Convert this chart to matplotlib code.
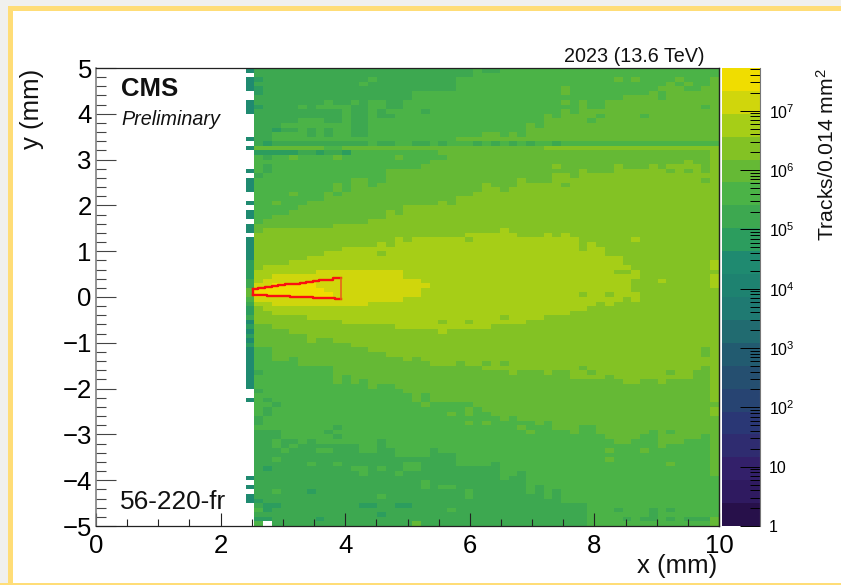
import numpy as np
import matplotlib
matplotlib.use("Agg")
import matplotlib.pyplot as plt
from matplotlib.colors import ListedColormap, LogNorm
from matplotlib.patches import Rectangle
from matplotlib.ticker import FixedLocator, LogLocator, NullFormatter, FuncFormatter

plt.rcParams['font.family'] = ['Liberation Sans', 'DejaVu Sans']
plt.rcParams['mathtext.fontset'] = 'custom'
plt.rcParams['mathtext.rm'] = 'Liberation Sans'
plt.rcParams['mathtext.default'] = 'regular'

# ---- colour bands of the palette, bottom to top
band_colors = ['#27104a', '#2f1a60', '#33206a', '#2f2c70', '#2a3775', '#274472', '#254f70',
               '#225b70', '#216b70', '#1f7a72', '#1e8270', '#1f8a70', '#2c9d5e', '#3da850',
               '#4bb347', '#65b935', '#83c224', '#a6ce17', '#d0d60c', '#f0dd00']
decades_per_band = 0.386

# ---- band outlines, per column (mm, upper and lower edges)
U19 = [.2, .2, .3, .3, .3, .3, .3, .2, .1]
L19 = [0, 0, 0, 0, 0, 0, 0, 0, 0]
U18 = [.3, .4, .5, .5, .5, .5, .5, .6, .6, .6,
       .6, .6, .6, .6, .6, .6, .6, .4, .4, .3]
L18 = [-.1, -.1, -.2, -.2, -.2, -.2, -.2, -.2, -.2, -.2,
       -.2, -.2, -.2, -.1, -.1, -.1, -.1, 0, 0, .2]
U17 = [.6, .7, .7, .7, .8, .8, .9, .9, 1, 1,
       1.1, 1.1, 1.1, 1.1, 1.2, 1.1, 1.3, 1.2, 1.3, 1.3,
       1.3, 1.3, 1.3, 1.3, 1.4, 1.4, 1.4, 1.4, 1.5, 1.4,
       1.3, 1.3, 1.3, 1.4, 1.3, 1.4, 1.3, 1.0, 1.2, 1.1,
       .9, .9, .7, .6]
L17 = [-.2, -.3, -.4, -.4, -.4, -.4, -.5, -.5, -.5, -.5,
       -.6, -.6, -.6, -.6, -.6, -.6, -.7, -.7, -.7, -.7,
       -.7, -.7, -.7, -.7, -.7, -.7, -.7, -.6, -.6, -.6,
       -.6, -.5, -.5, -.4, -.4, -.4, -.3, -.3, -.2, -.1,
       -.2, -.1, 0, -.1]
U16 = [1.4, 1.5, 1.5, 1.5, 1.5, 1.5, 1.5, 1.5, 1.5, 1.6,
       1.6, 1.6, 1.6, 1.7, 1.7, 1.9, 1.8, 2.0, 2.0, 2.0,
       2.0, 2.1, 2.0, 2.2, 2.2, 2.3, 2.5, 2.4, 2.3, 2.4,
       2.6, 2.5, 2.5, 2.5, 2.7, 2.7, 2.6, 2.8, 2.7, 2.7,
       2.7, 2.9, 2.8, 2.8, 2.8, 2.9, 2.8, 2.9, 3.0, 3.0,
       2.9, 2.7, 3.3]
L16 = [-.6, -.6, -.7, -.7, -.8, -.8, -1, -.9, -.9, -1,
       -1, -1.1, -1.1, -1.2, -1.2, -1.3, -1.3, -1.4, -1.3, -1.4,
       -1.5, -1.5, -1.5, -1.4, -1.5, -1.5, -1.6, -1.6, -1.6, -1.7,
       -1.6, -1.6, -1.6, -1.7, -1.6, -1.6, -1.8, -1.8, -1.8, -1.8,
       -1.7, -1.8, -1.9, -1.9, -1.8, -1.8, -1.9, -1.8, -1.8, -1.8,
       -1.6, -1.5, -2.3]
U15 = [1.6, 1.7, 1.8, 1.8, 1.9, 2.0, 2.1, 2.1, 2.3, 2.5,
       2.3, 2.6, 2.6, 2.4, 2.5, 2.8, 2.8, 2.8, 2.8, 2.9,
       3.0, 3.2, 3.2, 3.5, 3.5, 3.5, 3.6, 3.6, 3.5, 3.6,
       3.5, 3.8, 3.7, 4.0, 3.9, 4.1, 4.0, 4.3, 4.1, 4.1,
       4.3, 4.3, 4.4, 4.4, 4.4, 4.5, 4.3, 4.6, 4.6, 4.5,
       4.5, 4.6, 4.8]
L15 = [-1.1, -1.1, -1.4, -1.4, -1.3, -1.5, -1.5, -1.5, -1.5, -1.9,
       -1.7, -1.9, -1.8, -2.0, -1.9, -1.9, -2.0, -2.1, -2.3, -2.1,
       -2.2, -2.3, -2.3, -2.3, -2.3, -2.4, -2.5, -2.6, -2.7, -2.6,
       -2.7, -2.7, -2.8, -2.7, -2.9, -2.9, -3.0, -2.8, -2.8, -3.0,
       -3.1, -3.2, -3.2, -3.1, -3.0, -2.9, -3.2, -3.2, -3.2, -3.1,
       -3.1, -3.0, -3.9]
U14 = [3.3, 3.3, 3.7, 3.8, 3.8, 3.9, 3.9, 3.9, 3.8, 3.8,
       3.9, 3.5, 3.5, 4.3, 4.3, 4.3, 4.3, 4.5, 4.5, 4.5,
       4.5, 4.5, 4.5, 4.8, 4.8, 5, 5, 5, 5, 5,
       5, 5, 5, 5, 5, 5, 5, 5, 5, 5,
       5, 5, 5, 5, 5, 5, 5, 5, 5, 5,
       5, 5, 5]
L14 = [-2.9, -2.9, -2.9, -3.1, -3.1, -3.1, -3.1, -3.1, -3.1, -3.2,
       -3.2, -3.2, -3.4, -3.4, -3.1, -3.3, -3.5, -3.5, -3.5, -3.5,
       -3.3, -3.4, -3.4, -3.7, -3.7, -3.7, -3.7, -3.6, -4.0, -3.9,
       -3.8, -4.3, -4.1, -4.4, -4.2, -4.5, -4.5, -4.5, -5, -5,
       -5, -5, -5, -5, -5, -5, -5, -5, -5, -5,
       -5, -5, -5]
base_band = 13

# ---- horizontal structure near y = 3.3 mm, by column
row_3p3 = [13, 12, 13, 13, 13, 13, 13, 13, 13, 13,
           13, 13, 13, 14, 13, 13, 14, 14, 13, 13,
           14, 13, 14, 14, 14, 13, 14, 13, 14, 13,
           14, 13, 14, 14, 13, 14, 14, 14, 14, 14,
           14, 14, 14, 14, 14, 14, 14, 14, 14, 14,
           14, 14, 14]
row_3p2 = [15, 15, 15, 15, 15, 15, 15, 15, 14, 14,
           15, 15, 15, 15, 15, 15, 15, 15, 15, 15,
           15, 15, 15, 15, 15, 15, 15, 15, 15, 15,
           15, 15, 15, 16, 16, 16, 16, 16, 16, 16,
           16, 16, 16, 16, 16, 16, 16, 16, 16, 16,
           16, 16, 16]
row_3p1 = [12, 12, 12, 12, 12, 13, 13, 12, 13, 13, 12,
           14, 14, 14, 14, 14, 14, 14, 14, 14, 14]

# ---- single deviating cells: (column, lower edge in mm, band)
cells = [(0, 4.7, 12), (1, 4.7, 13), (0, 4.5, 12), (0, 4.4, 12), (0, 4.1, 12), (5, 4.1, 14),
         (7, 4.1, 14), (8, 4.1, 14), (9, 4.1, 14), (10, 4.1, 14), (8, 4.2, 14), (11, 4.2, 14),
         (10, 3.9, 14), (10, 4.0, 14), (14, 3.9, 13), (14, 4.0, 13), (15, 3.9, 13), (15, 4.1, 13),
         (16, 4.1, 13), (15, 4.2, 13), (16, 4.2, 13), (19, 4.0, 13), (15, 4.5, 13), (17, 4.3, 13),
         (17, 4.4, 13), (17, 4.5, 13), (13, 4.7, 14), (12, 4.6, 14), (8, 3.5, 13), (8, 3.6, 13),
         (2, 3.6, 12), (3, 3.6, 13), (4, 3.6, 13), (6, 3.5, 13), (6, 3.6, 13), (1, 3.0, 13),
         (1, 2.7, 13), (1, 2.8, 13), (0, 2.6, 13), (4, 3.0, 15), (9, 3.0, 15), (16, 3.0, 15),
         (21, 3.0, 14), (9, 2.2, 14), (4, 2.2, 15), (2, 2.0, 15), (26, 4.9, 13), (27, 4.9, 13),
         (41, 4.7, 15), (43, 4.7, 15), (46, 4.5, 15), (48, 4.7, 15), (47, 4.6, 15), (49, 4.6, 15),
         (35, 4.4, 15), (35, 4.5, 15), (35, 4.2, 15), (31, 3.7, 15), (33, 3.9, 15), (46, 4.3, 14),
         (51, 4.1, 14), (44, 3.9, 14), (39, 3.9, 14), (38, 3.8, 14), (34, 2.8, 16), (47, 2.7, 15),
         (49, 2.7, 15), (48, 2.9, 15), (35, 2.4, 15), (51, 2.5, 15), (43, 1.2, 17), (41, .5, 16),
         (42, .5, 16), (46, .3, 17), (52, .7, 17), (52, .6, 17), (52, .4, 17), (52, .3, 17),
         (52, .2, 17), (37, 0, 16), (40, 0, 16), (43, .3, 16), (43, .2, 16), (43, .1, 16),
         (28, -.5, 16), (28, -.6, 17), (26, -1.5, 15), (28, -1.5, 15), (37, -1.6, 15),
         (38, -1.7, 15), (47, -1.7, 15), (51, -1.2, 15), (51, -1.3, 15), (52, -2.5, 16),
         (52, -2.6, 16), (26, -2.8, 15), (30, -2.9, 15), (31, -3.0, 15), (47, -3.0, 14),
         (51, -3.1, 14), (51, -3.2, 14), (40, -3.4, 15), (40, -3.6, 15), (44, -3.4, 15),
         (46, -3.3, 15), (47, -3.7, 15), (41, -4.7, 13), (45, -4.7, 13), (45, -4.8, 13),
         (45, -4.9, 13), (47, -4.7, 13), (42, -4.9, 13), (44, -4.9, 13), (47, -4.9, 13),
         (49, -4.9, 13), (50, -4.9, 13), (51, -4.9, 13), (2, -3.2, 14), (2, -3.3, 14),
         (3, -3.4, 14), (4, -3.3, 14), (5, -3.2, 14), (7, -3.2, 14), (8, -3.2, 14), (7, -3.4, 14),
         (8, -3.4, 14), (2, -3.6, 14), (6, -3.7, 14), (9, -3.7, 14), (2, -4.3, 14), (6, -4.3, 12),
         (1, -3.8, 12), (11, -3.8, 14), (12, -3.8, 14), (12, -3.9, 14), (14, -3.8, 14),
         (16, -3.9, 14), (17, -3.7, 14), (18, -3.7, 14), (17, -3.8, 14), (18, -3.8, 14),
         (19, -4.2, 14), (19, -4.1, 14), (21, -4.2, 14), (22, -4.2, 14), (14, -4.4, 14),
         (24, -4.4, 14), (24, -4.3, 14), (0, -4.5, 12), (1, -4.6, 12), (1, -4.7, 12), (2, -4.6, 12),
         (0, -4.7, 14), (12, -4.6, 12), (13, -4.6, 12), (16, -4.6, 12), (17, -4.6, 12),
         (22, -4.7, 14), (14, -4.8, 12), (0, -4.9, 12), (1, -4.9, 12), (7, -4.9, 12),
         (8, -3.0, 13), (9, -2.9, 13), (9, -3.1, 13), (24, -2.6, 15), (24, -2.5, 15), (22, -2.6, 15),
         (24, -2.8, 15), (19, -2.4, 15), (20, -2.3, 15), (1, -2.6, 13), (1, -2.5, 13), (0, -2.7, 13),
         (0, -2.8, 13), (2, -2.4, 13), (1, -2.3, 13), (0, -2.1, 13), (0, -1.7, 13), (21, -.6, 16),
         (21, -.8, 17), (24, -.6, 16), (14, .9, 16), (24, 1.2, 16), (0, -5.0, 14), (18, -5.0, 15),
         (38, -5.0, 14), (39, -5.0, 14), (40, -5.0, 14), (52, -5.0, 15), (52, -4.9, 15)]
empty_cells = [(1, -5.0)]

# ---- partly filled column at the left edge: (lower edge in mm, band)
strip_cells = [(4.9, 11), (4.7, 11), (4.6, 11), (4.5, 11), (4.2, 11), (4.1, 11), (4.0, 11), (3.4, 11),
               (3.2, 11), (2.7, 11), (2.5, 11), (2.4, 11), (2.3, 11), (2.0, 11), (1.8, 11), (1.7, 11),
               (1.5, 11), (1.4, 11), (1.2, 11), (1.1, 11), (1.0, 11), (.9, 11), (.8, 11), (.7, 12),
               (.6, 12), (.5, 12), (.4, 12), (.3, 13), (.2, 13), (.1, 15), (0, 15), (-.1, 14), (-.2, 13),
               (-.3, 12), (-.4, 12), (-.5, 13), (-.6, 11), (-.7, 12), (-.8, 11), (-.9, 12), (-1.0, 11),
               (-1.1, 12), (-1.2, 11), (-1.3, 11), (-1.4, 11), (-1.5, 11), (-1.6, 11), (-1.7, 11),
               (-1.8, 11), (-1.9, 11), (-2.0, 11), (-2.3, 11), (-4.0, 11), (-4.2, 11), (-4.4, 11),
               (-4.5, 11)]

# ---- acceptance outline (stepped top and bottom edges, straight closing side)
outline_top_x = [2.525, 2.606, 2.713, 2.82, 2.927, 3.034, 3.157, 3.274, 3.371, 3.478, 3.585, 3.692, 3.81, 3.933]
outline_top_y = [0.168, 0.204, 0.225, 0.24, 0.262, 0.277, 0.29, 0.312, 0.327, 0.342, 0.364, 0.378, 0.408, 0.408]
outline_low_x = [2.525, 2.75, 3.114, 3.478, 3.836, 3.933]
outline_low_y = [0.044, 0.022, 0.0, -0.015, -0.037, -0.037]
outline_side_x = [3.933, 3.933]
outline_side_y = [0.408, -0.037]
outline_left_x = [2.525, 2.525]
outline_left_y = [0.168, 0.044]

xticks_major = [0, 2, 4, 6, 8, 10]
yticks_major = [-5, -4, -3, -2, -1, 0, 1, 2, 3, 4, 5]
cbar_ticks = [1, 10, 100, 1e3, 1e4, 1e5, 1e6, 1e7]
cbar_labels = ['1', '10', '$10^{2}$', '$10^{3}$', '$10^{4}$', '$10^{5}$', '$10^{6}$', '$10^{7}$']


def row(y):
    return int(round((y + 5) * 10))


n_col, n_row = 53, 100
bands = np.full((n_row, n_col + 1), np.nan)
bands[:, 1:] = base_band
for band, up, low in [(14, U14, L14), (15, U15, L15), (16, U16, L16),
                      (17, U17, L17), (18, U18, L18), (19, U19, L19)]:
    for k, (u, l) in enumerate(zip(up, low)):
        bands[row(l):row(u), k + 1] = band
for k, b in enumerate(row_3p3):
    bands[row(3.3), k + 1] = b
for k, b in enumerate(row_3p2):
    bands[row(3.2), k + 1] = b
for k, b in enumerate(row_3p1):
    bands[row(3.1), k + 1] = b
for k, y, b in cells:
    bands[row(y), k + 1] = b
for k, y in empty_cells:
    bands[row(y), k + 1] = np.nan
for y, b in strip_cells:
    bands[row(y), 0] = b

counts = np.ma.masked_invalid(10 ** ((bands + 0.5) * decades_per_band))
x_edges = np.r_[2.40, np.linspace(2.54, 10, n_col + 1)]
y_edges = np.linspace(-5, 5, n_row + 1)

W, H = 841, 585
fig = plt.figure(figsize=(W / 100, H / 100), dpi=100, facecolor='#f0f0ee')


def fx(px):
    return px / W


def fy(py):
    return 1 - py / H


fig.patches.append(Rectangle((fx(8), fy(583)), fx(850), 577 / H, transform=fig.transFigure,
                             facecolor='#ffdd77', edgecolor='none', zorder=-3))
fig.patches.append(Rectangle((fx(13), fy(583)), fx(840), 572 / H, transform=fig.transFigure,
                             facecolor='white', edgecolor='none', zorder=-2))
fig.patches.append(Rectangle((fx(0), fy(585)), fx(841), 2 / H, transform=fig.transFigure,
                             facecolor='#ffdd77', edgecolor='none', zorder=-1))

ax = fig.add_axes([fx(96), fy(526), 623 / W, 458 / H])
ax.patch.set_alpha(0)
cmap = ListedColormap(band_colors)
norm = LogNorm(vmin=1, vmax=10 ** (20 * decades_per_band))
mesh = ax.pcolormesh(x_edges, y_edges, counts, cmap=cmap, norm=norm, antialiased=False, rasterized=True)
ax.step(outline_top_x, outline_top_y, where='post', color='#fa1010', lw=1.7)
ax.step(outline_low_x, outline_low_y, where='post', color='#fa1010', lw=1.7)
ax.plot(outline_left_x, outline_left_y, color='#fa1010', lw=1.7)
ax.plot(outline_side_x, outline_side_y, color='#e8641a', lw=1.2)
ax.set_xlim(0, 10)
ax.set_ylim(-5, 5)
ax.xaxis.set_major_locator(FixedLocator(xticks_major))
ax.xaxis.set_minor_locator(FixedLocator(np.arange(0, 10.01, 0.5)))
ax.yaxis.set_major_locator(FixedLocator(yticks_major))
ax.yaxis.set_minor_locator(FixedLocator(np.arange(-5, 5.01, 0.2)))
ax.tick_params(axis='x', which='major', direction='in', length=13 * .72, width=.8, color='#222222',
               labelsize=18.5, pad=6)
ax.tick_params(axis='x', which='minor', direction='in', length=7 * .72, width=.8, color='#222222')
ax.tick_params(axis='y', which='major', direction='in', length=20 * .72, width=.8, color='#444444',
               labelsize=18.5, pad=3)
ax.tick_params(axis='y', which='minor', direction='in', length=10 * .72, width=.8, color='#444444')
for name, c, lw in [('top', '#222222', .9), ('bottom', '#222222', .9), ('right', '#222222', 1.0),
                    ('left', '#777777', 1.1)]:
    ax.spines[name].set_color(c)
    ax.spines[name].set_linewidth(lw)

cax = fig.add_axes([fx(722), fy(526), 38 / W, 458 / H])
cb = fig.colorbar(mesh, cax=cax)
cb.outline.set_visible(False)
cax.spines['right'].set_visible(True)
cax.spines['right'].set_color('#777777')
cax.set_yscale('log')
cax.set_ylim(1, 10 ** (20 * decades_per_band))
cax.yaxis.set_major_locator(FixedLocator(cbar_ticks))
cax.yaxis.set_major_formatter(FuncFormatter(lambda v, p: cbar_labels[cbar_ticks.index(v)] if v in cbar_ticks else ''))
cax.yaxis.set_minor_locator(LogLocator(base=10, subs=range(2, 10), numticks=20))
cax.yaxis.set_minor_formatter(NullFormatter())
cax.tick_params(axis='y', which='major', direction='in', length=20 * .72, width=.7, color='black',
                labelsize=11.5, pad=6.5, right=True, left=False, labelright=True, labelleft=False)
cax.tick_params(axis='y', which='minor', direction='in', length=10 * .72, width=.7, color='black',
                right=True, left=False)
cax.xaxis.set_visible(False)

fig.text(fx(32), fy(109), 'y (mm)', rotation=90, ha='center', va='center', fontsize=18.5, color='#111111')
fig.text(fx(717), fy(573), 'x (mm)', ha='right', va='baseline', fontsize=18.5, color='#111111')
fig.text(fx(121), fy(96.5), 'CMS', fontweight='bold', ha='left', va='baseline', fontsize=18.5, color='#111111')
fig.text(fx(121), fy(125), 'Preliminary', style='italic', ha='left', va='baseline', fontsize=14.2, color='#111111')
fig.text(fx(120), fy(509), '56-220-fr', ha='left', va='baseline', fontsize=18.8, color='#111111')
fig.text(fx(705), fy(62), '2023 (13.6 TeV)', ha='right', va='baseline', fontsize=14.2, color='#111111')
fig.text(fx(838), fy(68), 'Tracks/0.014 mm$^{2}$', rotation=90, ha='right', va='top', fontsize=15.2,
         color='#111111')

fig.savefig('out.png', dpi=100, facecolor=fig.get_facecolor())
